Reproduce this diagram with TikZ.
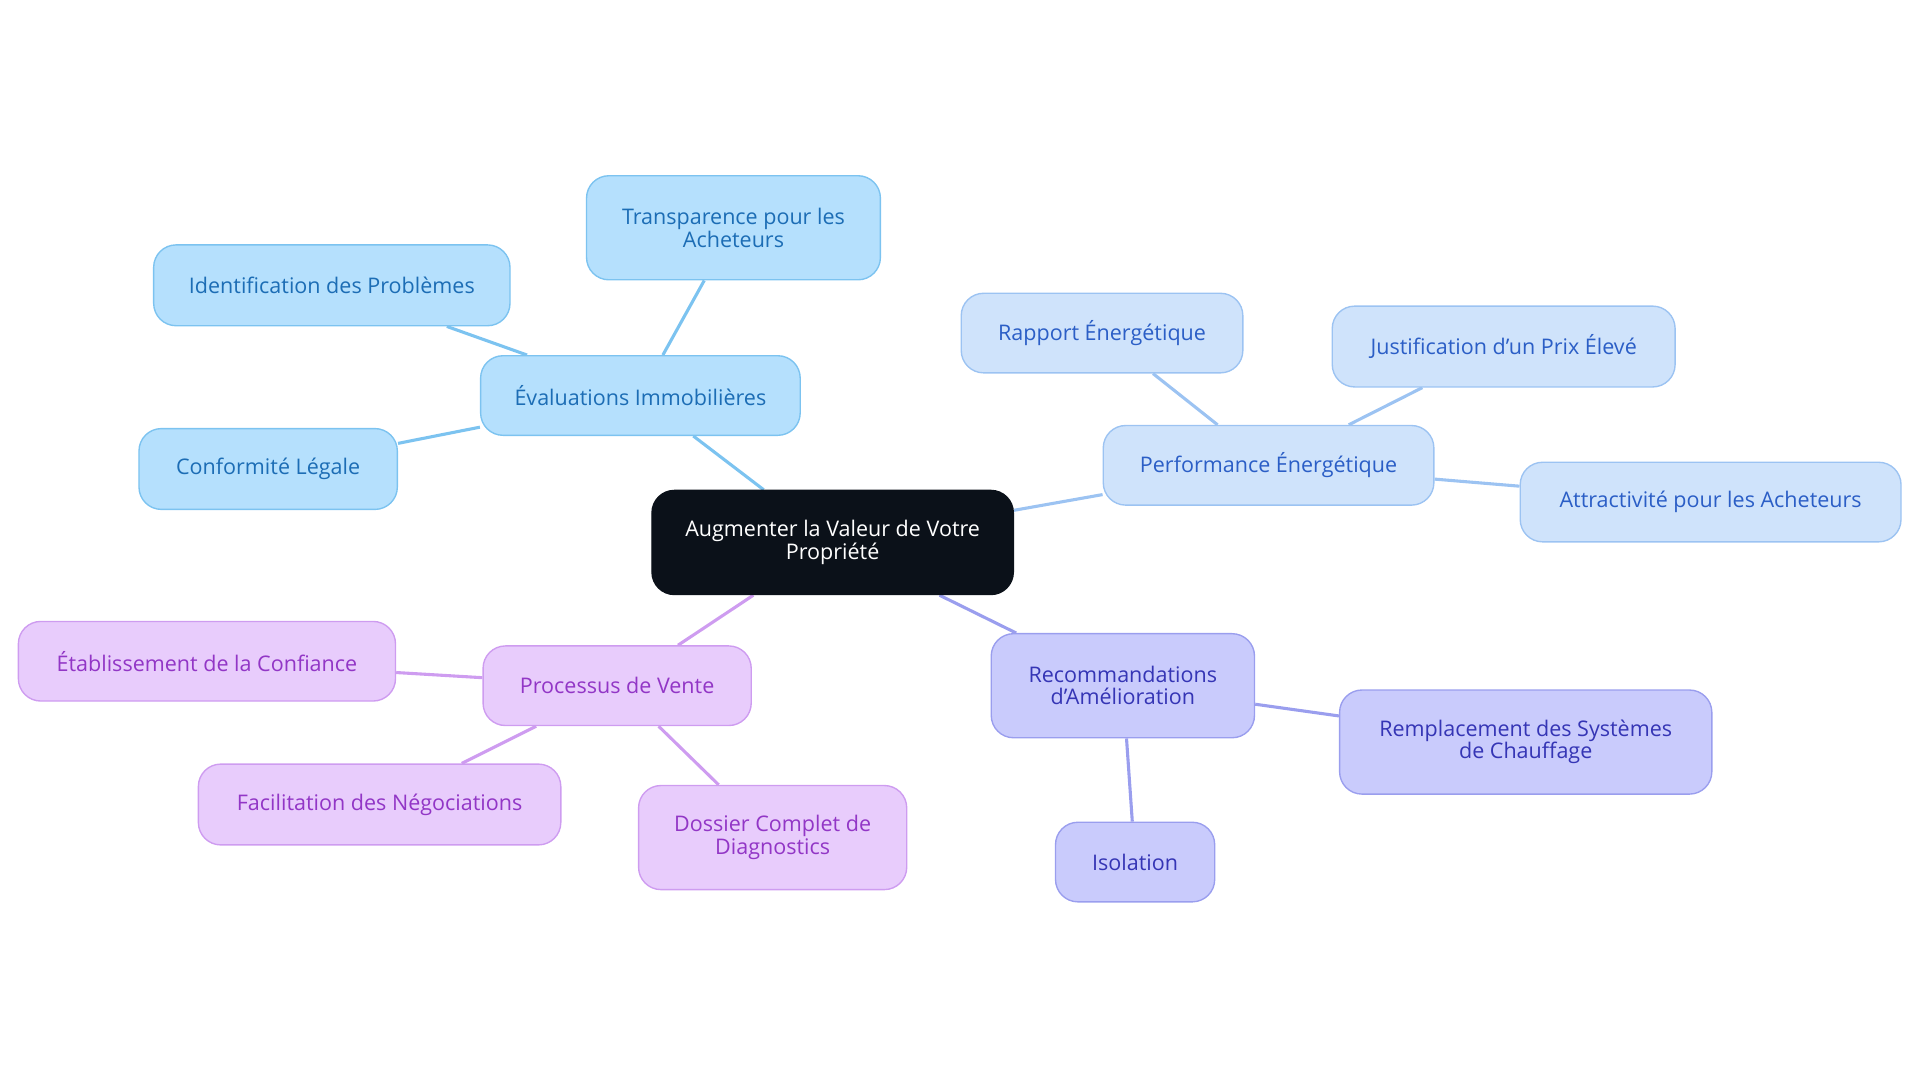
\documentclass[tikz,border=0pt]{standalone}
\usepackage{fontspec}
\setmainfont{Open Sans}
\usetikzlibrary{backgrounds}
\definecolor{rootf}{HTML}{0B1119}
\definecolor{bf}{HTML}{B5E0FD}\definecolor{bd}{HTML}{7CC3F0}\definecolor{bt}{HTML}{1C6DB5}
\definecolor{pf}{HTML}{CFE3FB}\definecolor{pd}{HTML}{9CC3F2}\definecolor{pt}{HTML}{2B5EC6}
\definecolor{rf}{HTML}{C9CBFC}\definecolor{rd}{HTML}{9A9EEE}\definecolor{rt}{HTML}{3535B5}
\definecolor{vf}{HTML}{E8CCFC}\definecolor{vd}{HTML}{CE9CF0}\definecolor{vt}{HTML}{9236C6}
\begin{document}
\begin{tikzpicture}[x=0.025cm,y=-0.025cm,
 box/.style={rounded corners=13pt,draw,line width=0.8pt,align=center,inner sep=0pt,font=\fontsize{12.5}{13}\selectfont},
 b/.style={box,fill=bf,draw=bd,text=bt},
 p/.style={box,fill=pf,draw=pd,text=pt},
 r/.style={box,fill=rf,draw=rd,text=rt},
 v/.style={box,fill=vf,draw=vd,text=vt},
 e/.style={line width=1.8pt}]
\useasboundingbox (0,0) rectangle (1568,884);
\node[box,fill=rootf,draw=rootf,text=white,minimum width=295\pgflinewidth*0+7.375cm,minimum height=2.125cm] (root) at (680,443) {Augmenter la Valeur de Votre\\Propriété};
\newcommand{\nd}[7]{\node[#1,minimum width=#5*0.025cm,minimum height=#6*0.025cm] (#2) at (#3,#4) {#7};}
\nd{b}{ev}{523}{323}{261}{65}{Évaluations Immobilières}
\nd{b}{tr}{599}{186}{240}{85}{Transparence pour les\\Acheteurs}
\nd{b}{id}{271}{233}{291}{66}{Identification des Problèmes}
\nd{b}{co}{219}{383}{211}{66}{Conformité Légale}
\nd{p}{pe}{1036}{380}{270}{65}{Performance Énergétique}
\nd{p}{ra}{900}{272}{230}{65}{Rapport Énergétique}
\nd{p}{ju}{1228}{283}{280}{66}{Justification d'un Prix Élevé}
\nd{p}{at}{1397}{410}{311}{65}{Attractivité pour les Acheteurs}
\nd{r}{re}{917}{560}{215}{85}{Recommandations\\d'Amélioration}
\nd{r}{rp}{1246}{606}{304}{85}{Remplacement des Systèmes\\de Chauffage}
\nd{r}{is}{927}{704}{130}{65}{Isolation}
\nd{v}{pv}{504}{560}{219}{65}{Processus de Vente}
\nd{v}{et}{169}{540}{308}{65}{Établissement de la Confiance}
\nd{v}{fa}{310}{657}{296}{66}{Facilitation des Négociations}
\nd{v}{do}{631}{684}{219}{85}{Dossier Complet de\\Diagnostics}
\begin{scope}[on background layer]
\draw[e,draw=bd] (root)--(ev) (ev)--(tr) (ev)--(id) (ev)--(co);
\draw[e,draw=pd] (root)--(pe) (pe)--(ra) (pe)--(ju) (pe)--(at);
\draw[e,draw=rd] (root)--(re) (re)--(rp) (re)--(is);
\draw[e,draw=vd] (root)--(pv) (pv)--(et) (pv)--(fa) (pv)--(do);
\end{scope}
\end{tikzpicture}
\end{document}
